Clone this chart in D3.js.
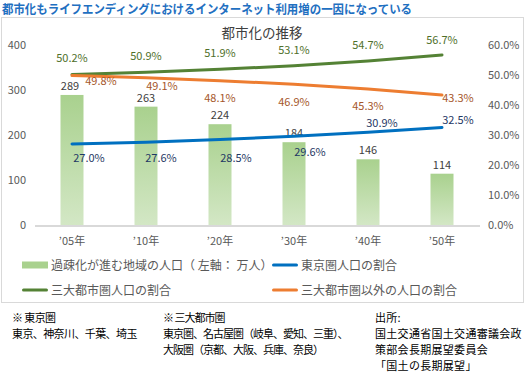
<!DOCTYPE html>
<html>
<head>
<meta charset="utf-8">
<script src="https://cdn.jsdelivr.net/npm/d3@7"></script>
<style>
  body { margin: 0; background: #fff; font-family: "Noto Sans CJK JP", "Noto Sans", sans-serif; }
  svg text { font-family: "Noto Sans CJK JP", "Noto Sans", sans-serif; }
</style>
</head>
<body>
<div id="viz"></div>
<script>
// chart data
const years = ["’05年", "’10年", "’20年", "’30年", "’40年", "’50年"]
const depopulated = [289, 263, 224, 184, 146, 114]
const tokyoShare = [27.0, 27.6, 28.5, 29.6, 30.9, 32.5]
const metroShare = [50.2, 50.9, 51.9, 53.1, 54.7, 56.7]
const otherShare = [49.8, 49.1, 48.1, 46.9, 45.3, 43.3]
const leftTicks = [0, 100, 200, 300, 400]
const rightTicks = [0, 10, 20, 30, 40, 50, 60]

document.addEventListener("DOMContentLoaded", () => {
  const width = 527
  const height = 384

  const svg = d3.select("#viz").append("svg")
    .attr("width", width)
    .attr("height", height)

  // page heading
  svg.append("text")
    .attr("x", 2).attr("y", 14)
    .attr("fill", "#1f70c1")
    .attr("font-size", 12.5).attr("font-weight", "bold")
    .attr("textLength", 410).attr("lengthAdjust", "spacingAndGlyphs")
    .text("都市化もライフエンディングにおけるインターネット利用増の一因になっている")

  // chart frame
  svg.append("rect")
    .attr("x", 1.5).attr("y", 17.5)
    .attr("width", 522).attr("height", 285)
    .attr("fill", "#fff").attr("stroke", "#d9d9d9")

  svg.append("text")
    .attr("x", 262).attr("y", 38)
    .attr("text-anchor", "middle")
    .attr("font-size", 13.5).attr("font-weight", 400).attr("fill", "#404040")
    .text("都市化の推移")

  // scales
  const x = d3.scaleBand().domain(years).range([35, 479])
  const yL = d3.scaleLinear().domain([0, 400]).range([225, 45])
  const yR = d3.scaleLinear().domain([0, 60]).range([225, 45])
  const cx = d => x(d) + x.bandwidth() / 2

  // axes (labels only)
  const axL = svg.append("g").attr("transform", "translate(26,0)")
    .call(d3.axisLeft(yL).tickValues(leftTicks).tickSize(0).tickPadding(0))
  const axR = svg.append("g").attr("transform", "translate(488,0)")
    .call(d3.axisRight(yR).tickValues(rightTicks).tickSize(0).tickPadding(0)
      .tickFormat(d => d.toFixed(1) + "%"))
  const axX = svg.append("g").attr("transform", "translate(0,226)")
    .call(d3.axisBottom(x).tickSize(0).tickPadding(11))
  ;[axL, axR, axX].forEach(g => {
    g.select(".domain").remove()
    g.selectAll("text").attr("font-size", 11).attr("fill", "#595959")
  })

  // bars with gradient
  const grad = svg.append("defs").append("linearGradient")
    .attr("id", "barGrad").attr("x1", 0).attr("y1", 0).attr("x2", 0).attr("y2", 1)
  grad.append("stop").attr("offset", "0%").attr("stop-color", "#a9d18e")
  grad.append("stop").attr("offset", "100%").attr("stop-color", "#d3e7c5")

  const barW = 23
  svg.selectAll("rect.bar")
    .data(depopulated)
    .enter().append("rect")
      .attr("class", "bar")
      .attr("x", (d, i) => cx(years[i]) - barW / 2)
      .attr("y", d => yL(d))
      .attr("width", barW)
      .attr("height", d => yL(0) - yL(d))
      .attr("fill", "url(#barGrad)")

  // baseline
  svg.append("line")
    .attr("x1", 35).attr("x2", 480)
    .attr("y1", 226).attr("y2", 226)
    .attr("stroke", "#d9d9d9").attr("stroke-width", 2)

  svg.selectAll("text.barLabel")
    .data(depopulated)
    .enter().append("text")
      .attr("class", "barLabel")
      .attr("x", (d, i) => cx(years[i]) - (i === 0 ? 2 : 0))
      .attr("y", d => yL(d) - 5)
      .attr("text-anchor", "middle")
      .attr("font-size", 11).attr("fill", "#404040")
      .text(d => d)

  // line series
  const series = [
    { values: metroShare, color: "#548235", text: "#4f6f2a",
      dx: [0, 0, 0, 0, 0, 0], dy: [-16, -16, -16, -16, -16, -15] },
    { values: otherShare, color: "#ed7d31", text: "#a5562a",
      dx: [29, 16, 0, 0, 0, 16], dy: [5, 8, 17, 18, 17, 3] },
    { values: tokyoShare, color: "#0070c0", text: "#1f3864",
      dx: [17, 15, 16, 16, 14, 16], dy: [14, 16, 18, 16, -9, -8] }
  ]

  const line = d3.line()
    .x((d, i) => cx(years[i]))
    .y(d => yR(d))
    .curve(d3.curveMonotoneX)

  series.forEach(s => {
    svg.append("path")
      .datum(s.values)
      .attr("d", line)
      .attr("fill", "none")
      .attr("stroke", s.color)
      .attr("stroke-width", 3)
      .attr("stroke-linecap", "round")
  })

  series.forEach(s => {
    svg.append("g").selectAll("text")
      .data(s.values)
      .enter().append("text")
        .attr("x", (d, i) => cx(years[i]) + s.dx[i])
        .attr("y", (d, i) => yR(d) + s.dy[i] + 4)
        .attr("text-anchor", "middle")
        .attr("font-size", 11).attr("fill", s.text)
        .text(d => d.toFixed(1) + "%")
  })

  // legend
  const legend = [
    { label: "過疎化が進む地域の人口（ 左軸： 万人）", color: "#a9d18e", bar: true, x: 22, y: 265 },
    { label: "東京圏人口の割合", color: "#0070c0", x: 272, y: 265 },
    { label: "三大都市圏人口の割合", color: "#548235", x: 22, y: 290 },
    { label: "三大都市圏以外の人口の割合", color: "#ed7d31", x: 272, y: 290 }
  ]
  const lg = svg.append("g").selectAll("g")
    .data(legend).enter().append("g")
    .attr("transform", d => `translate(${d.x},${d.y})`)
  lg.append("rect")
    .attr("x", 0).attr("y", d => d.bar ? -3.5 : -1.5)
    .attr("width", 26).attr("height", d => d.bar ? 7 : 3)
    .attr("rx", d => d.bar ? 0 : 1.5)
    .attr("fill", d => d.color)
  lg.append("text")
    .attr("x", 29).attr("y", 4.5)
    .attr("font-size", 12).attr("fill", "#595959")
    .text(d => d.label)

  // notes under the chart
  const notes = [
    { x: 12, ls: -0.6, lines: ["※  東京圏", "東京、神奈川、千葉、埼玉"] },
    { x: 163, ls: -1, lines: ["※  三大都市圏", "東京圏、名古屋圏（岐阜、愛知、三重）、", "大阪圏（京都、大阪、兵庫、奈良）"] },
    { x: 375, ls: 0.3, lines: ["出所:", "国土交通省国土交通審議会政", "策部会長期展望委員会", "「国土の長期展望」"] }
  ]
  notes.forEach(n => {
    svg.append("g").selectAll("text")
      .data(n.lines).enter().append("text")
        .attr("x", n.x)
        .attr("y", (d, i) => 322 + i * 16)
        .attr("font-size", 11).attr("fill", "#000")
        .attr("letter-spacing", n.ls)
        .text(d => d)
  })
})
</script>
</body>
</html>
